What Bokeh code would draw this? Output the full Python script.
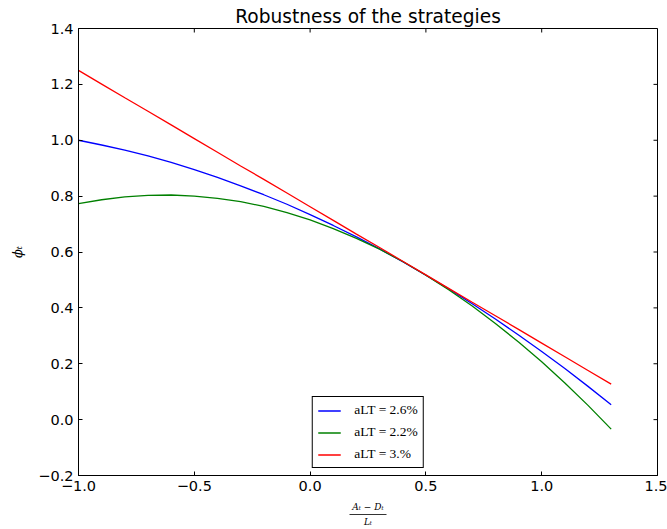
import math
from bokeh.plotting import figure
from bokeh.models import LinearAxis, FixedTicker, Legend, LegendItem
from bokeh.embed import file_html
from bokeh.resources import INLINE

# ---- data ----
x_vals = [-1.0, -0.9, -0.8, -0.7, -0.6, -0.5, -0.4, -0.3, -0.2, -0.1, 0.0, 0.1,
          0.2, 0.3, 0.4, 0.5, 0.6, 0.7, 0.8, 0.9, 1.0, 1.1, 1.2, 1.3]
phi_26 = [1.000, 0.983, 0.965, 0.944, 0.921, 0.895, 0.867, 0.837, 0.805, 0.771, 0.734, 0.695,
          0.654, 0.611, 0.565, 0.517, 0.467, 0.415, 0.360, 0.303, 0.244, 0.183, 0.119, 0.053]
phi_22 = [0.773, 0.787, 0.797, 0.803, 0.804, 0.800, 0.792, 0.780, 0.763, 0.741, 0.715, 0.684,
          0.649, 0.610, 0.566, 0.517, 0.464, 0.407, 0.344, 0.278, 0.207, 0.131, 0.051, -0.034]
phi_30 = [1.250, 1.201, 1.152, 1.104, 1.055, 1.006, 0.957, 0.908, 0.860, 0.811, 0.762, 0.713,
          0.664, 0.616, 0.567, 0.518, 0.469, 0.420, 0.372, 0.323, 0.274, 0.225, 0.176, 0.127]
series_labels = ["aLT = 2.6%", "aLT = 2.2%", "aLT = 3.%"]
series_colors = ["#0000ff", "#008000", "#ff0000"]

x_ticks = [-1.0, -0.5, 0.0, 0.5, 1.0, 1.5]
x_tick_labels = ["\u22121.0", "\u22120.5", "0.0", "0.5", "1.0", "1.5"]
y_ticks = [-0.2, 0.0, 0.2, 0.4, 0.6, 0.8, 1.0, 1.2, 1.4]
y_tick_labels = ["\u22120.2", "0.0", "0.2", "0.4", "0.6", "0.8", "1.0", "1.2", "1.4"]

title_text = "Robustness of the strategies"
x_label_num = "A\u209c \u2212 D\u209c"
x_label_den = "L\u209c"
y_label = "\u03d5\u209c"

# ---- figure ----
p = figure(width=667, height=529, x_range=(-1.0, 1.5), y_range=(-0.2, 1.4),
           output_backend="svg", toolbar_location=None,
           min_border_left=78, min_border_right=10, min_border_top=28, min_border_bottom=53)
p.grid.visible = False
p.outline_line_color = "black"
p.outline_line_width = 1
p.outline_line_alpha = 1
p.background_fill_color = "white"
p.border_fill_color = "white"

p.title.text = title_text
p.title.align = "center"
p.title.text_font = "DejaVu Sans"
p.title.text_font_size = "18.6px"
p.title.text_font_style = "normal"
p.title.text_color = "black"
p.title.standoff = 3


def style_axis(ax, ticks, labels):
    ax.ticker = FixedTicker(ticks=ticks)
    ax.major_label_overrides = {t: l for t, l in zip(ticks, labels)}
    ax.axis_line_color = "black"
    ax.axis_line_width = 1
    ax.major_tick_in = 4
    ax.major_tick_out = 0
    ax.major_tick_line_color = "black"
    ax.minor_tick_line_color = None
    ax.major_label_text_font = "DejaVu Sans"
    ax.major_label_text_color = "black"
    ax.major_label_text_font_size = "14.5px"


xa = p.xaxis[0]
style_axis(xa, x_ticks, x_tick_labels)
xa.major_label_standoff = 5
xa.axis_label = x_label_num
xa.axis_label_text_font = "DejaVu Serif"
xa.axis_label_text_font_size = "9px"
xa.axis_label_text_font_style = "italic"
xa.axis_label_text_color = "black"
xa.axis_label_standoff = 8

ya = p.yaxis[0]
style_axis(ya, y_ticks, y_tick_labels)
ya.major_label_standoff = 5
ya.axis_label = y_label
ya.axis_label_text_font = "DejaVu Serif"
ya.axis_label_text_font_size = "13px"
ya.axis_label_text_font_style = "italic"
ya.axis_label_text_color = "black"
ya.axis_label_standoff = 10

# fraction bar + denominator of the x label
frac = LinearAxis(ticker=FixedTicker(ticks=[]), bounds=(0.17, 0.33))
frac.axis_line_color = "black"
frac.axis_line_width = 0.8
frac.major_tick_in = 0
frac.major_tick_out = 0
frac.minor_tick_line_color = None
frac.major_label_standoff = 0
frac.axis_label = x_label_den
frac.axis_label_text_font = "DejaVu Serif"
frac.axis_label_text_font_size = "9px"
frac.axis_label_text_font_style = "italic"
frac.axis_label_text_color = "black"
frac.axis_label_standoff = 2
p.add_layout(frac, "below")

# inward ticks on the top and right edges of the frame
p.ray(x=x_ticks, y=[p.y_range.end] * len(x_ticks), length=4, length_units="screen",
      angle=-math.pi / 2, line_color="black", line_width=1)
p.ray(x=[p.x_range.end] * len(y_ticks), y=y_ticks, length=4, length_units="screen",
      angle=math.pi, line_color="black", line_width=1)

# ---- lines ----
renderers = []
for ys, col in zip([phi_26, phi_22, phi_30], series_colors):
    r = p.line(x_vals, ys, line_color=col, line_width=1.3)
    renderers.append(r)

legend = Legend(items=[LegendItem(label=lab, renderers=[r])
                       for lab, r in zip(series_labels, renderers)],
                location="bottom_center")
legend.margin = 7
legend.padding = 5
legend.spacing = 6
legend.glyph_width = 23
legend.glyph_height = 15
legend.label_standoff = 14
legend.label_text_font = "Liberation Serif"
legend.label_text_font_size = "13.5px"
legend.label_text_color = "black"
legend.border_line_color = "black"
legend.border_line_width = 1
legend.border_line_alpha = 1
legend.background_fill_alpha = 1
p.add_layout(legend)

open("out.html", "w").write(file_html(p, INLINE))
